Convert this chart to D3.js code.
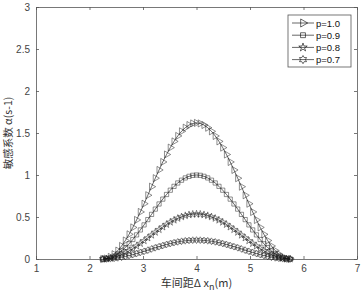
<!DOCTYPE html>
<html>
<head>
<meta charset="utf-8">
<script src="https://cdn.jsdelivr.net/npm/d3@7"></script>
<style>
  body { margin:0; background:#fff; }
  svg text { font-family: "Liberation Sans", Arial, sans-serif; }
</style>
</head>
<body>
<div id="chart"></div>
<script>
// headway values (m)
var headway = [2.25,2.32,2.39,2.46,2.53,2.60,2.67,2.74,2.81,2.88,2.95,3.02,3.09,3.16,3.23,3.30,3.37,3.44,3.51,3.58,3.65,3.72,3.79,3.86,3.93,4.00,
    4.07,4.14,4.21,4.28,4.35,4.42,4.49,4.56,4.63,4.70,4.77,4.84,4.91,4.98,5.05,5.12,5.19,5.26,5.33,5.40,5.47,5.54,5.61,5.68,5.75];

var sens10 = [0,.006,.025,.057,.100,.155,.220,.294,.376,.465,.560,.658,.759,.861,.962,1.060,1.155,1.244,1.326,1.400,1.465,1.520,1.563,1.595,1.614,1.620,
    1.614,1.595,1.563,1.520,1.465,1.400,1.326,1.244,1.155,1.060,.962,.861,.759,.658,.560,.465,.376,.294,.220,.155,.100,.057,.025,.006,0];
var sens09 = [0,.004,.016,.035,.062,.096,.136,.181,.232,.287,.346,.406,.469,.531,.594,.655,.713,.768,.819,.865,.905,.938,.965,.984,.996,1.0,
    .996,.984,.965,.938,.905,.865,.819,.768,.713,.655,.594,.531,.469,.406,.346,.287,.232,.181,.136,.096,.062,.035,.016,.004,0];
var sens08 = [0,.002,.008,.019,.033,.051,.072,.097,.124,.154,.185,.217,.251,.284,.318,.350,.381,.411,.438,.463,.484,.502,.516,.527,.533,.535,
    .533,.527,.516,.502,.484,.463,.438,.411,.381,.350,.318,.284,.251,.217,.185,.154,.124,.097,.072,.051,.033,.019,.008,.002,0];
var sens07 = [0,.001,.004,.008,.014,.021,.030,.041,.052,.065,.078,.091,.105,.120,.134,.147,.160,.173,.184,.195,.204,.211,.217,.221,.224,.225,
    .224,.221,.217,.211,.204,.195,.184,.173,.160,.147,.134,.120,.105,.091,.078,.065,.052,.041,.030,.021,.014,.008,.004,.001,0];

var seriesNames = ["p=1.0", "p=0.9", "p=0.8", "p=0.7"];
var xTicks = [1,2,3,4,5,6,7];
var yTicks = [0,0.5,1,1.5,2,2.5,3];

var W = 363, H = 295;
var margin = { left:36, right:6, top:7, bottom:36 };
var width = W - margin.left - margin.right,
    height = H - margin.top - margin.bottom;

var axisColor = "#555";

// hexagram marker
var symbolHexagram = {
    draw: function(ctx, size){
        var r = Math.sqrt(size / 1.2), ri = r * 0.58;
        for (var i = 0; i < 12; i++){
            var a = Math.PI / 6 * i - Math.PI / 2;
            var rr = i % 2 == 0 ? r : ri;
            if (i == 0) ctx.moveTo(rr*Math.cos(a), rr*Math.sin(a));
            else ctx.lineTo(rr*Math.cos(a), rr*Math.sin(a));
        }
        ctx.closePath();
    }
};

var markers = [
    { type: d3.symbolTriangle, size: 22, rot: 90 },
    { type: d3.symbolSquare, size: 18, rot: 0 },
    { type: d3.symbolStar, size: 16, rot: 0 },
    { type: symbolHexagram, size: 14, rot: 0 }
];

var allSeries = [sens10, sens09, sens08, sens07];

var svg = d3.select("#chart").append("svg")
    .attr("width", W)
    .attr("height", H);

var chart = svg.append("g")
    .attr("transform", "translate(" + margin.left + "," + margin.top + ")");

var x = d3.scaleLinear().domain([1, 7]).range([0, width]);
var y = d3.scaleLinear().domain([0, 3]).range([height, 0]);

// axes (box with inward ticks)
function styleAxis(g){
    g.selectAll("path").attr("stroke", axisColor).attr("stroke-width", 0.8);
    g.selectAll("line").attr("stroke", axisColor).attr("stroke-width", 0.8);
    g.selectAll("text").attr("fill", "#444").attr("font-size", "10px");
}

chart.append("g")
    .attr("transform", "translate(0," + height + ")")
    .call(d3.axisBottom(x).tickValues(xTicks).tickFormat(d3.format("d")).tickSizeInner(-3).tickSizeOuter(0).tickPadding(6))
    .call(styleAxis);
chart.append("g")
    .call(d3.axisTop(x).tickValues(xTicks).tickFormat("").tickSizeInner(-3).tickSizeOuter(0))
    .call(styleAxis);
chart.append("g")
    .call(d3.axisLeft(y).tickValues(yTicks).tickFormat(function(d){ return d; }).tickSizeInner(-3).tickSizeOuter(0).tickPadding(6))
    .call(styleAxis);
chart.append("g")
    .attr("transform", "translate(" + width + ",0)")
    .call(d3.axisRight(y).tickValues(yTicks).tickFormat("").tickSizeInner(-3).tickSizeOuter(0))
    .call(styleAxis);

var line = d3.line()
    .x(function(d, i){ return x(headway[i]); })
    .y(function(d){ return y(d); });

allSeries.forEach(function(vals, k){
    var g = chart.append("g");
    g.append("path")
        .attr("d", line(vals))
        .attr("fill", "none")
        .attr("stroke", "#000")
        .attr("stroke-width", 0.6);
    var m = markers[k];
    g.selectAll("path.mk")
        .data(vals)
        .enter().append("path")
        .attr("class", "mk")
        .attr("d", d3.symbol().type(m.type).size(m.size))
        .attr("transform", function(d, i){ return "translate(" + x(headway[i]) + "," + y(d) + ") rotate(" + m.rot + ")"; })
        .attr("fill", "none")
        .attr("stroke", "#222")
        .attr("stroke-width", 0.5);
});

// legend
var legend = svg.append("g").attr("transform", "translate(288,15)");
legend.append("rect")
    .attr("width", 63).attr("height", 52)
    .attr("fill", "#fff").attr("stroke", axisColor).attr("stroke-width", 0.8);
seriesNames.forEach(function(name, k){
    var ly = 8 + k * 12.2;
    legend.append("line")
        .attr("x1", 4).attr("x2", 26).attr("y1", ly).attr("y2", ly)
        .attr("stroke", "#000").attr("stroke-width", 0.6);
    legend.append("path")
        .attr("d", d3.symbol().type(markers[k].type).size(markers[k].size + 6))
        .attr("transform", "translate(15," + ly + ") rotate(" + markers[k].rot + ")")
        .attr("fill", "none").attr("stroke", "#000").attr("stroke-width", 0.6);
    legend.append("text")
        .attr("x", 28).attr("y", ly + 3.5)
        .attr("font-size", "9.5px").attr("fill", "#111")
        .text(name);
});

// axis titles
svg.append("text")
    .attr("transform", "translate(8," + (margin.top + height / 2) + ") rotate(-90)")
    .attr("text-anchor", "middle")
    .attr("dy", "0.35em")
    .attr("font-size", "10.5px")
    .attr("fill", "#333")
    .style("font-family", "'Noto Sans CJK SC', sans-serif")
    .text("敏感系数 α(s-1)");

var xl = svg.append("text")
    .attr("x", margin.left + width / 2)
    .attr("y", 287)
    .attr("text-anchor", "middle")
    .attr("font-size", "11px")
    .attr("fill", "#333")
    .style("font-family", "'Noto Sans CJK SC', sans-serif");
xl.append("tspan").text("车间距Δ x");
xl.append("tspan").attr("dy", 3).attr("font-size", "9px").text("n");
xl.append("tspan").attr("dy", -3).text("(m)");
</script>
</body>
</html>
